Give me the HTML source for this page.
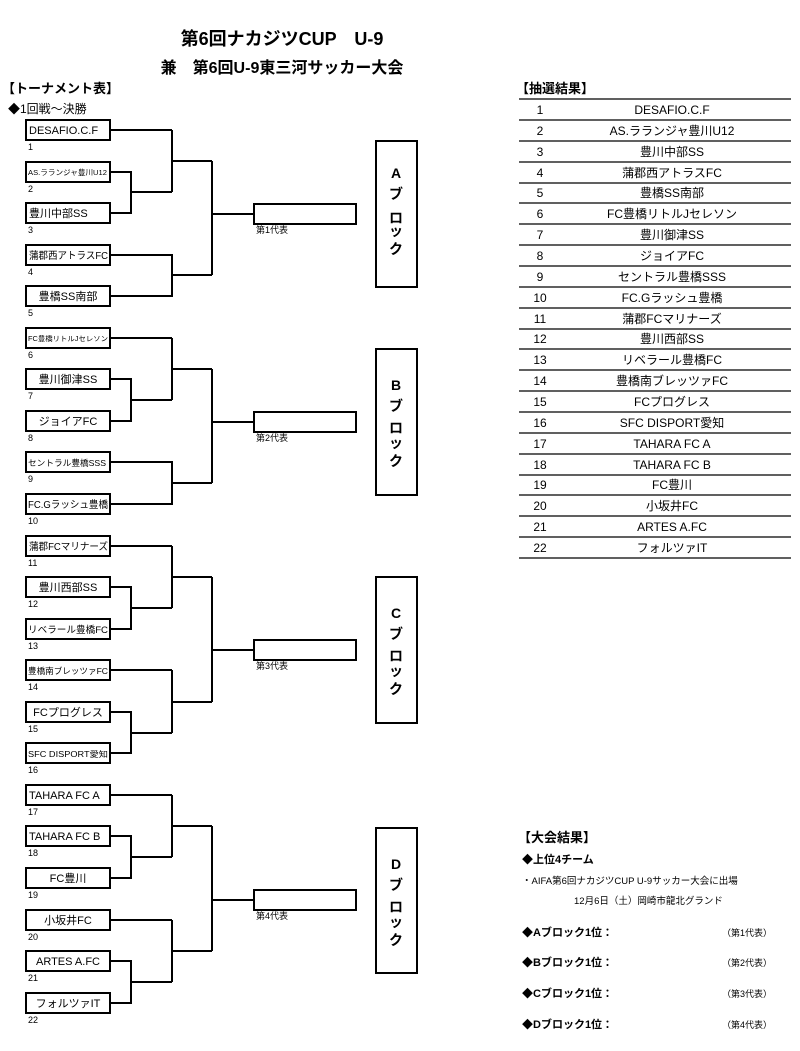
<!DOCTYPE html>
<html><head><meta charset="utf-8"><style>
html,body{margin:0;padding:0;background:#fff}
svg{display:block}
text{font-family:"Liberation Sans","Noto Sans CJK JP",sans-serif;fill:#000}
.t{font-size:11px}
.n{font-size:9px}
.b{font-weight:bold}
</style></head><body>
<svg width="800" height="1051" viewBox="0 0 800 1051" xmlns="http://www.w3.org/2000/svg">
<text x="282" y="45" text-anchor="middle" class="b" font-size="18">第6回ナカジツCUP　U-9</text>
<text x="282" y="73" text-anchor="middle" class="b" font-size="16">兼　第6回U-9東三河サッカー大会</text>
<text x="2" y="93" class="b" font-size="13">【トーナメント表】</text>
<text x="8" y="113" font-size="12">◆1回戦～決勝</text>
<text x="516" y="93" class="b" font-size="13">【抽選結果】</text>

<g fill="none" stroke="#000" stroke-width="2">
<rect x="26" y="120" width="84" height="20"/><rect x="26" y="162" width="84" height="20"/><rect x="26" y="203" width="84" height="20"/><rect x="26" y="245" width="84" height="20"/><rect x="26" y="286" width="84" height="20"/>
<rect x="26" y="328" width="84" height="20"/><rect x="26" y="369" width="84" height="20"/><rect x="26" y="411" width="84" height="20"/><rect x="26" y="452" width="84" height="20"/><rect x="26" y="494" width="84" height="20"/>
<rect x="26" y="536" width="84" height="20"/><rect x="26" y="577" width="84" height="20"/><rect x="26" y="619" width="84" height="20"/><rect x="26" y="660" width="84" height="20"/><rect x="26" y="702" width="84" height="20"/><rect x="26" y="743" width="84" height="20"/>
<rect x="26" y="785" width="84" height="20"/><rect x="26" y="826" width="84" height="20"/><rect x="26" y="868" width="84" height="20"/><rect x="26" y="910" width="84" height="20"/><rect x="26" y="951" width="84" height="20"/><rect x="26" y="993" width="84" height="20"/>
<rect x="254" y="204" width="102" height="20"/><rect x="254" y="412" width="102" height="20"/><rect x="254" y="640" width="102" height="20"/><rect x="254" y="890" width="102" height="20"/>
<rect x="376" y="141" width="41" height="146"/><rect x="376" y="349" width="41" height="146"/><rect x="376" y="577" width="41" height="146"/><rect x="376" y="828" width="41" height="145"/>
<path d="M110 130H172M110 172H131V213H110M131 192H172M172 130V192M172 161H212M110 255H172V296H110M172 275H212M212 161V275M212 214H254"/>
<path d="M110 338H172M110 379H131V421H110M131 400H172M172 338V400M172 369H212M110 462H172V504H110M172 483H212M212 369V483M212 422H254"/>
<path d="M110 546H172M110 587H131V629H110M131 608H172M172 546V608M172 577H212M110 670H172M110 712H131V753H110M131 733H172M172 670V733M172 702H212M212 577V702M212 650H254"/>
<path d="M110 795H172M110 836H131V878H110M131 857H172M172 795V857M172 826H212M110 920H172M110 961H131V1003H110M131 982H172M172 920V982M172 951H212M212 826V951M212 900H254"/>
</g>

<g class="t">
<text x="29" y="134">DESAFIO.C.F</text>
<text x="28" y="175" font-size="7.5" textLength="79" lengthAdjust="spacingAndGlyphs">AS.ラランジャ豊川U12</text>
<text x="29" y="217">豊川中部SS</text>
<text x="29" y="259" font-size="10" textLength="79" lengthAdjust="spacingAndGlyphs">蒲郡西アトラスFC</text>
<text x="68" y="300" text-anchor="middle">豊橋SS南部</text>
<text x="28" y="341" font-size="7" textLength="80" lengthAdjust="spacingAndGlyphs">FC豊橋リトルJセレソン</text>
<text x="68" y="383" text-anchor="middle">豊川御津SS</text>
<text x="68" y="425" text-anchor="middle">ジョイアFC</text>
<text x="28" y="466" font-size="8.5" textLength="78" lengthAdjust="spacingAndGlyphs">セントラル豊橋SSS</text>
<text x="28" y="508" font-size="10" textLength="80" lengthAdjust="spacingAndGlyphs">FC.Gラッシュ豊橋</text>
<text x="29" y="550" font-size="10" textLength="79" lengthAdjust="spacingAndGlyphs">蒲郡FCマリナーズ</text>
<text x="68" y="591" text-anchor="middle">豊川西部SS</text>
<text x="28" y="633" font-size="9.5" textLength="80" lengthAdjust="spacingAndGlyphs">リベラール豊橋FC</text>
<text x="28" y="674" font-size="8.5" textLength="80" lengthAdjust="spacingAndGlyphs">豊橋南ブレッツァFC</text>
<text x="68" y="716" text-anchor="middle">FCプログレス</text>
<text x="28" y="757" font-size="8" textLength="80" lengthAdjust="spacingAndGlyphs">SFC DISPORT愛知</text>
<text x="29" y="799">TAHARA FC A</text>
<text x="29" y="840">TAHARA FC B</text>
<text x="68" y="882" text-anchor="middle">FC豊川</text>
<text x="68" y="924" text-anchor="middle">小坂井FC</text>
<text x="68" y="965" text-anchor="middle">ARTES A.FC</text>
<text x="68" y="1007" text-anchor="middle">フォルツァIT</text>
</g>
<g class="n">
<text x="28" y="150">1</text><text x="28" y="192">2</text><text x="28" y="233">3</text><text x="28" y="275">4</text><text x="28" y="316">5</text>
<text x="28" y="358">6</text><text x="28" y="399">7</text><text x="28" y="441">8</text><text x="28" y="482">9</text><text x="28" y="524">10</text>
<text x="28" y="566">11</text><text x="28" y="607">12</text><text x="28" y="649">13</text><text x="28" y="690">14</text><text x="28" y="732">15</text><text x="28" y="773">16</text>
<text x="28" y="815">17</text><text x="28" y="856">18</text><text x="28" y="898">19</text><text x="28" y="940">20</text><text x="28" y="981">21</text><text x="28" y="1023">22</text>
<text x="256" y="233">第1代表</text><text x="256" y="441">第2代表</text><text x="256" y="669">第3代表</text><text x="256" y="919">第4代表</text>
</g>

<g class="b" font-size="14" text-anchor="middle">
<text x="396" y="178">A</text><text x="396" y="199">ブ</text><text x="396" y="223">ロ</text><text x="396" y="236">ッ</text><text x="396" y="254">ク</text>
<text x="396" y="390">B</text><text x="396" y="411">ブ</text><text x="396" y="433">ロ</text><text x="396" y="448">ッ</text><text x="396" y="466">ク</text>
<text x="396" y="618">C</text><text x="396" y="639">ブ</text><text x="396" y="661">ロ</text><text x="396" y="676">ッ</text><text x="396" y="694">ク</text>
<text x="396" y="869">D</text><text x="396" y="890">ブ</text><text x="396" y="912">ロ</text><text x="396" y="927">ッ</text><text x="396" y="945">ク</text>
</g>

<g stroke="#000" stroke-width="1.3">
<path d="M519 99H791M519 120H791M519 141H791M519 162H791M519 183H791M519 203H791M519 224H791M519 245H791M519 266H791M519 287H791M519 308H791M519 329H791M519 349H791M519 370H791M519 391H791M519 412H791M519 433H791M519 454H791M519 475H791M519 495H791M519 516H791M519 537H791M519 558H791"/>
</g>
<g font-size="12">
<g text-anchor="middle">
<text x="540" y="114">1</text><text x="540" y="135">2</text><text x="540" y="156">3</text><text x="540" y="177">4</text><text x="540" y="197">5</text><text x="540" y="218">6</text><text x="540" y="239">7</text><text x="540" y="260">8</text><text x="540" y="281">9</text><text x="540" y="302">10</text><text x="540" y="323">11</text><text x="540" y="343">12</text><text x="540" y="364">13</text><text x="540" y="385">14</text><text x="540" y="406">15</text><text x="540" y="427">16</text><text x="540" y="448">17</text><text x="540" y="469">18</text><text x="540" y="489">19</text><text x="540" y="510">20</text><text x="540" y="531">21</text><text x="540" y="552">22</text>
<text x="672" y="114">DESAFIO.C.F</text><text x="672" y="135">AS.ラランジャ豊川U12</text><text x="672" y="156">豊川中部SS</text><text x="672" y="177">蒲郡西アトラスFC</text><text x="672" y="197">豊橋SS南部</text><text x="672" y="218">FC豊橋リトルJセレソン</text><text x="672" y="239">豊川御津SS</text><text x="672" y="260">ジョイアFC</text><text x="672" y="281">セントラル豊橋SSS</text><text x="672" y="302">FC.Gラッシュ豊橋</text><text x="672" y="323">蒲郡FCマリナーズ</text><text x="672" y="343">豊川西部SS</text><text x="672" y="364">リベラール豊橋FC</text><text x="672" y="385">豊橋南ブレッツァFC</text><text x="672" y="406">FCプログレス</text><text x="672" y="427">SFC DISPORT愛知</text><text x="672" y="448">TAHARA FC A</text><text x="672" y="469">TAHARA FC B</text><text x="672" y="489">FC豊川</text><text x="672" y="510">小坂井FC</text><text x="672" y="531">ARTES A.FC</text><text x="672" y="552">フォルツァIT</text>
</g>
</g>

<text x="518" y="842" class="b" font-size="13">【大会結果】</text>
<text x="522" y="863" class="b" font-size="11">◆上位4チーム</text>
<text x="522" y="884" font-size="9.5">・AIFA第6回ナカジツCUP U-9サッカー大会に出場</text>
<text x="574" y="904" font-size="9.5">12月6日（土）岡崎市龍北グランド</text>
<g class="b" font-size="11">
<text x="522" y="936">◆Aブロック1位：</text><text x="522" y="966">◆Bブロック1位：</text><text x="522" y="997">◆Cブロック1位：</text><text x="522" y="1028">◆Dブロック1位：</text>
</g>
<g font-size="9">
<text x="722" y="936">（第1代表）</text><text x="722" y="966">（第2代表）</text><text x="722" y="997">（第3代表）</text><text x="722" y="1028">（第4代表）</text>
</g>
</svg>
</body></html>
